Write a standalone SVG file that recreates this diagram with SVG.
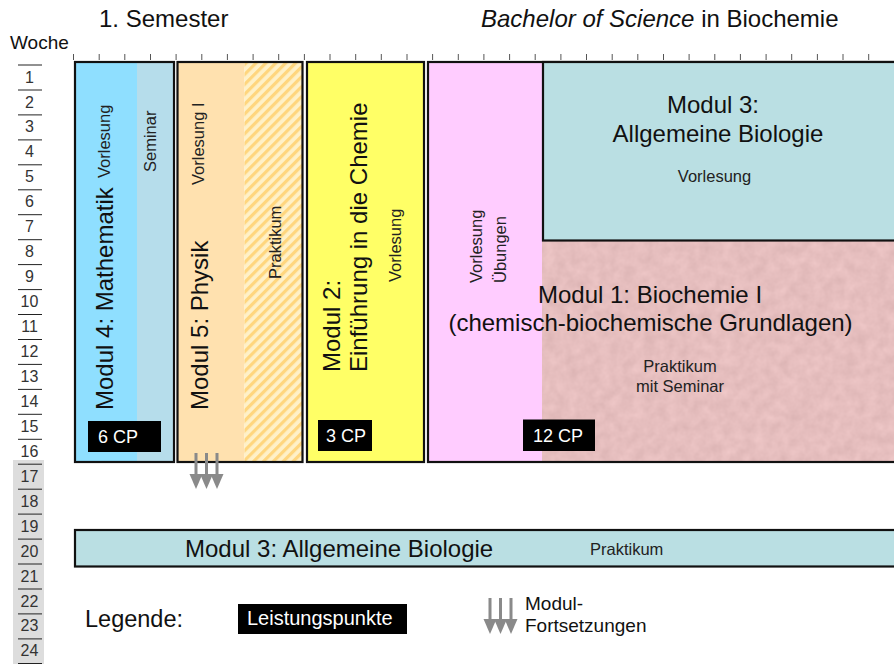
<svg xmlns="http://www.w3.org/2000/svg" width="894" height="664" viewBox="0 0 894 664">
<style>
text{font-family:"Liberation Sans",Arial,sans-serif;fill:#111}
.big{font-size:24px}
.sm{font-size:16.5px;fill:#222}
.wk{font-size:16px;fill:#333;text-anchor:middle}
.cp{font-size:18px;fill:#fff}
.box{stroke:#111;stroke-width:2.2}
.mid{text-anchor:middle}
.tick{stroke:#555;stroke-width:1}
.wl{stroke:#222;stroke-width:1}
.arr{fill:#8a8a8a}
</style>
<defs>
<pattern id="hatch" patternUnits="userSpaceOnUse" width="7" height="7" patternTransform="rotate(45)">
<rect width="7" height="7" fill="#FFF1C8"/>
<rect width="3.2" height="7" fill="#FFD67E"/>
</pattern>
<filter id="tex" x="0" y="0" width="100%" height="100%" color-interpolation-filters="sRGB">
<feTurbulence type="fractalNoise" baseFrequency="0.09" numOctaves="3" seed="4"/>
<feColorMatrix type="matrix" values="0.09 0 0 0 0.855  0.09 0 0 0 0.70  0.09 0 0 0 0.70  0 0 0 0 1"/>
</filter>
<g id="arr3">
<rect x="-1.5" y="0" width="3" height="23" class="arr"/>
<rect x="9" y="0" width="3" height="23" class="arr"/>
<rect x="19.5" y="0" width="3" height="23" class="arr"/>
<polygon points="-6.5,21 6.5,21 0,36" class="arr"/>
<polygon points="4,21 17,21 10.5,36" class="arr"/>
<polygon points="14.5,21 27.5,21 21,36" class="arr"/>
</g>
</defs>
<rect width="894" height="664" fill="#fff"/>

<g id="titles">
<text x="99" y="27" class="big">1. Semester</text>
<text x="481" y="27" class="big"><tspan font-style="italic">Bachelor of Science</tspan> in Biochemie</text>
<text x="10" y="49" font-size="19">Woche</text>
</g>

<g id="ruler">
<path class="tick" d="M73.5 54v6M99.2 54v6M124.8 54v6M150.5 54v6M176.1 54v6M201.8 54v6M227.4 54v6M253.1 54v6M278.7 54v6M304.4 54v6M330 54v6M355.7 54v6M381.3 54v6M407 54v6M432.6 54v6M458.3 54v6M483.9 54v6M509.6 54v6M535.2 54v6M560.9 54v6M586.5 54v6M612.2 54v6M637.8 54v6M663.5 54v6M689.1 54v6M714.8 54v6M740.4 54v6M766.1 54v6M791.7 54v6M817.4 54v6M843 54v6M868.7 54v6"/>
</g>

<g id="weeks">
<rect x="13" y="460" width="31" height="204" fill="#DDDDDD"/>
<path class="wl" d="M18 65h24M18 90h24M18 114.9h24M18 139.9h24M18 164.8h24M18 189.8h24M18 214.7h24M18 239.7h24M18 264.6h24M18 289.6h24M18 314.5h24M18 339.5h24M18 364.4h24M18 389.4h24M18 414.3h24M18 439.3h24M18 464.2h24M18 489.2h24M18 514.1h24M18 539.1h24M18 564h24M18 589h24M18 613.9h24M18 638.9h24M18 663.5h24"/>
<text class="wk" x="29.5" y="82.5">1</text>
<text class="wk" x="29.5" y="107.5">2</text>
<text class="wk" x="29.5" y="132.4">3</text>
<text class="wk" x="29.5" y="157.4">4</text>
<text class="wk" x="29.5" y="182.3">5</text>
<text class="wk" x="29.5" y="207.3">6</text>
<text class="wk" x="29.5" y="232.2">7</text>
<text class="wk" x="29.5" y="257.2">8</text>
<text class="wk" x="29.5" y="282.1">9</text>
<text class="wk" x="29.5" y="307.1">10</text>
<text class="wk" x="29.5" y="332">11</text>
<text class="wk" x="29.5" y="357">12</text>
<text class="wk" x="29.5" y="381.9">13</text>
<text class="wk" x="29.5" y="406.9">14</text>
<text class="wk" x="29.5" y="431.8">15</text>
<text class="wk" x="29.5" y="456.8">16</text>
<text class="wk" x="29.5" y="481.7">17</text>
<text class="wk" x="29.5" y="506.7">18</text>
<text class="wk" x="29.5" y="531.6">19</text>
<text class="wk" x="29.5" y="556.6">20</text>
<text class="wk" x="29.5" y="581.5">21</text>
<text class="wk" x="29.5" y="606.5">22</text>
<text class="wk" x="29.5" y="631.4">23</text>
<text class="wk" x="29.5" y="656.4">24</text>
</g>

<g id="modul4">
<rect x="75" y="62" width="62" height="400" fill="#8FDFFF"/>
<rect x="137" y="62" width="37" height="400" fill="#B6DDEB"/>
<rect x="75" y="62" width="99" height="400" fill="none" class="box"/>
<text class="big" transform="translate(113,410) rotate(-90)">Modul 4: Mathematik</text>
<text class="sm" transform="translate(110,178) rotate(-90)">Vorlesung</text>
<text class="sm" transform="translate(156,172) rotate(-90)">Seminar</text>
<rect x="88" y="421" width="73" height="31" fill="#000"/>
<text class="cp" x="98" y="442.5">6 CP</text>
</g>

<g id="modul5">
<rect x="177.5" y="62" width="67" height="400" fill="#FFE1AF"/>
<rect x="244.5" y="62" width="58" height="400" fill="url(#hatch)"/>
<rect x="177.5" y="62" width="125" height="400" fill="none" class="box"/>
<text class="big" transform="translate(208,410) rotate(-90)">Modul 5: Physik</text>
<text class="sm" transform="translate(204,185) rotate(-90)">Vorlesung I</text>
<text class="sm" transform="translate(281,279) rotate(-90)">Praktikum</text>
</g>

<g id="modul2">
<rect x="307" y="62" width="117" height="400" fill="#FFFF66" class="box"/>
<text class="big" transform="translate(340,372) rotate(-90)">Modul 2:</text>
<text class="big" transform="translate(367,372) rotate(-90)">Einführung in die Chemie</text>
<text class="sm" transform="translate(401,282) rotate(-90)">Vorlesung</text>
<rect x="318" y="420" width="54" height="31" fill="#000"/>
<text class="cp" x="326" y="442">3 CP</text>
</g>

<g id="modul1">
<rect x="428" y="62" width="480" height="400" filter="url(#tex)"/>
<rect x="428" y="62" width="114" height="400" fill="#FFCCFF"/>
<rect x="428" y="62" width="480" height="400" fill="none" class="box"/>
<text class="sm" transform="translate(482,283) rotate(-90)">Vorlesung</text>
<text class="sm" transform="translate(506,283) rotate(-90)">Übungen</text>
<text class="big mid" x="650" y="303">Modul 1: Biochemie I</text>
<text class="big mid" x="650.5" y="330.5">(chemisch-biochemische Grundlagen)</text>
<text class="sm mid" x="680" y="372">Praktikum</text>
<text class="sm mid" x="680" y="392">mit Seminar</text>
<rect x="523" y="419.5" width="72" height="31.5" fill="#000"/>
<text class="cp" x="533" y="442">12 CP</text>
</g>

<g id="modul3">
<rect x="543" y="62" width="365" height="178.5" fill="#BADFE3" class="box"/>
<text class="big mid" x="713" y="113">Modul 3:</text>
<text class="big mid" x="718" y="142">Allgemeine Biologie</text>
<text class="sm mid" x="714.5" y="182">Vorlesung</text>
</g>

<g id="modul3-praktikum">
<rect x="75" y="530" width="833" height="36.5" fill="#BADFE3" class="box"/>
<text class="big" x="185" y="557">Modul 3: Allgemeine Biologie</text>
<text class="sm" x="590" y="555">Praktikum</text>
</g>

<g id="legende">
<text x="85" y="627" font-size="23.5">Legende:</text>
<rect x="238" y="604" width="169" height="30" fill="#000"/>
<text x="247" y="625" font-size="20" style="fill:#fff">Leistungspunkte</text>
<text x="525" y="610" font-size="19">Modul-</text>
<text x="525" y="632" font-size="19">Fortsetzungen</text>
</g>

<g id="connectors">
<use href="#arr3" transform="translate(196,453)"/>
<use href="#arr3" transform="translate(490,598)"/>
</g>
</svg>
